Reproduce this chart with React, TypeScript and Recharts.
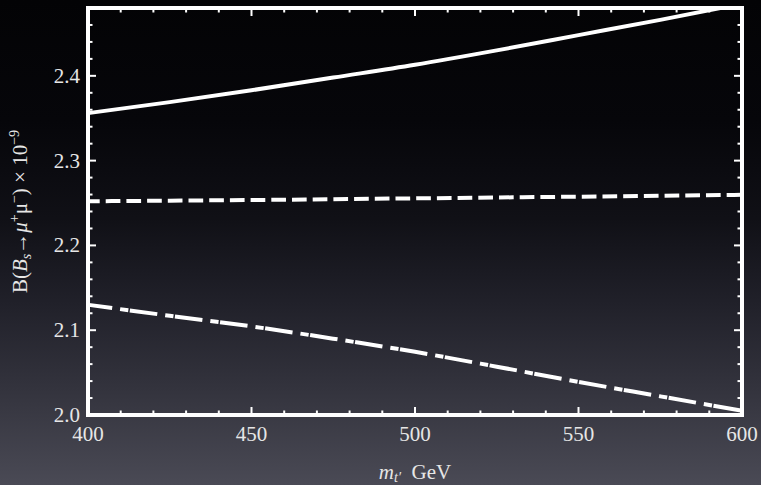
import React from "react";
import { LineChart, Line, XAxis, YAxis, Label } from "recharts";

// values
const masses = [400, 425, 450, 475, 500, 525, 550, 575, 600];
const solidBr = [2.356, 2.369, 2.383, 2.398, 2.413, 2.43, 2.448, 2.466, 2.485];
const dashedBr = [2.252, 2.2528, 2.2535, 2.2545, 2.2555, 2.2565, 2.2575, 2.2586, 2.2597];
const dashDotBr = [2.13, 2.117, 2.1045, 2.09, 2.0745, 2.057, 2.039, 2.022, 2.005];

const xTicks = [400, 410, 420, 430, 440, 450, 460, 470, 480, 490, 500, 510, 520, 530, 540, 550, 560, 570, 580, 590, 600];
const yTicks = [2.0, 2.02, 2.04, 2.06, 2.08, 2.1, 2.12, 2.14, 2.16, 2.18, 2.2, 2.22, 2.24, 2.26, 2.28, 2.3, 2.32, 2.34, 2.36, 2.38, 2.4, 2.42, 2.44, 2.46, 2.48];

const data = masses.map((m, i) => ({
  m,
  solid: solidBr[i],
  dashed: dashedBr[i],
  dashDot: dashDotBr[i],
}));

const FONT = "Liberation Serif, DejaVu Serif, serif";
const TEXT = "#e6e6e6";
const txt = { fontFamily: FONT, fill: TEXT };

const isMajorX = (v: number) => v % 50 === 0;
const isMajorY = (v: number) => Math.abs(v * 10 - Math.round(v * 10)) < 1e-6;

// ticks point into the frame, like the original plot
const BottomTick = (p: any) => {
  const v = p.payload.value;
  const major = isMajorX(v);
  return (
    <g>
      <line x1={p.x} x2={p.x} y1={p.y} y2={p.y - (major ? 8 : 4.5)} stroke="#fff" strokeWidth={2} />
      {major && (
        <text x={p.x} y={p.y + 26} textAnchor="middle" style={txt} fontSize={21}>
          {v}
        </text>
      )}
    </g>
  );
};

const TopTick = (p: any) => {
  const major = isMajorX(p.payload.value);
  return <line x1={p.x} x2={p.x} y1={p.y} y2={p.y + (major ? 8 : 4.5)} stroke="#fff" strokeWidth={2} />;
};

const LeftTick = (p: any) => {
  const v = p.payload.value;
  const major = isMajorY(v);
  return (
    <g>
      <line x1={p.x} x2={p.x + (major ? 8 : 4.5)} y1={p.y} y2={p.y} stroke="#fff" strokeWidth={2} />
      {major && (
        <text x={p.x - 8} y={p.y + 7} textAnchor="end" style={txt} fontSize={21}>
          {v.toFixed(1)}
        </text>
      )}
    </g>
  );
};

const RightTick = (p: any) => {
  const major = isMajorY(p.payload.value);
  return <line x1={p.x} x2={p.x - (major ? 8 : 4.5)} y1={p.y} y2={p.y} stroke="#fff" strokeWidth={2} />;
};

const XTitle = (props: any) => {
  const { x, y, width } = props.viewBox;
  return (
    <text x={x + width / 2} y={y + 64} textAnchor="middle" style={txt} fontSize={21}>
      <tspan fontStyle="italic">m</tspan>
      <tspan fontStyle="italic" fontSize={14} dy={3}>t′</tspan>
      <tspan dy={-3}>{"\u00a0\u00a0GeV"}</tspan>
    </text>
  );
};

const YTitle = (props: any) => {
  const { x, y, height } = props.viewBox;
  const cx = x + 26.5;
  const cy = y + height / 2;
  return (
    <text x={cx} y={cy} transform={`rotate(-90 ${cx} ${cy})`} textAnchor="middle" style={txt} fontSize={21}>
      <tspan>B(</tspan>
      <tspan fontStyle="italic">B</tspan>
      <tspan fontStyle="italic" fontSize={14} dy={4}>s</tspan>
      <tspan dy={-4}>→</tspan>
      <tspan fontStyle="italic">μ</tspan>
      <tspan fontSize={14} dy={-8}>+</tspan>
      <tspan dy={8}>μ</tspan>
      <tspan fontSize={14} dy={-8}>−</tspan>
      <tspan dy={8}>) × 10</tspan>
      <tspan fontSize={14} dy={-8}>−9</tspan>
    </text>
  );
};

const frame = { stroke: "#fff", strokeWidth: 4, strokeLinecap: "square" as const };

export default function App() {
  return (
    <div
      style={{
        position: "absolute",
        left: 0,
        top: 0,
        width: 761,
        height: 485,
        background:
          "linear-gradient(to bottom, #030305 0%, #06060a 25%, #101016 45%, #202029 62%, #33333d 80%, #4a4a55 100%)",
      }}
    >
      <LineChart width={761} height={485} data={data} margin={{ top: 7, right: 18, bottom: 0, left: 0 }}>
        <XAxis
          xAxisId="b"
          dataKey="m"
          type="number"
          domain={[400, 600]}
          ticks={xTicks}
          height={70}
          axisLine={frame}
          tickLine={false}
          tickSize={0}
          tickMargin={0}
          tick={<BottomTick />}
          interval={0}
        >
          <Label content={<XTitle />} />
        </XAxis>
        <XAxis
          xAxisId="t"
          orientation="top"
          dataKey="m"
          type="number"
          domain={[400, 600]}
          ticks={xTicks}
          height={1}
          axisLine={frame}
          tickLine={false}
          tickSize={0}
          tickMargin={0}
          tick={<TopTick />}
          interval={0}
        />
        <YAxis
          yAxisId="l"
          type="number"
          domain={[2.0, 2.48]}
          allowDataOverflow
          ticks={yTicks}
          width={88}
          axisLine={frame}
          tickLine={false}
          tickSize={0}
          tickMargin={0}
          tick={<LeftTick />}
          interval={0}
        >
          <Label content={<YTitle />} />
        </YAxis>
        <YAxis
          yAxisId="r"
          orientation="right"
          type="number"
          domain={[2.0, 2.48]}
          allowDataOverflow
          ticks={yTicks}
          width={1}
          axisLine={frame}
          tickLine={false}
          tickSize={0}
          tickMargin={0}
          tick={<RightTick />}
          interval={0}
        />
        <Line
          xAxisId="b"
          yAxisId="l"
          type="monotone"
          dataKey="solid"
          stroke="#fff"
          strokeWidth={4}
          dot={false}
          isAnimationActive={false}
        />
        <Line
          xAxisId="b"
          yAxisId="l"
          type="monotone"
          dataKey="dashed"
          stroke="#fff"
          strokeWidth={4}
          strokeDasharray="14.7 6"
          strokeDashoffset={3}
          dot={false}
          isAnimationActive={false}
        />
        <Line
          xAxisId="b"
          yAxisId="l"
          type="monotone"
          dataKey="dashDot"
          stroke="#fff"
          strokeWidth={4}
          strokeDasharray="27.7 8 8.3 1.5"
          strokeDashoffset={3.3}
          dot={false}
          isAnimationActive={false}
        />
      </LineChart>
    </div>
  );
}
